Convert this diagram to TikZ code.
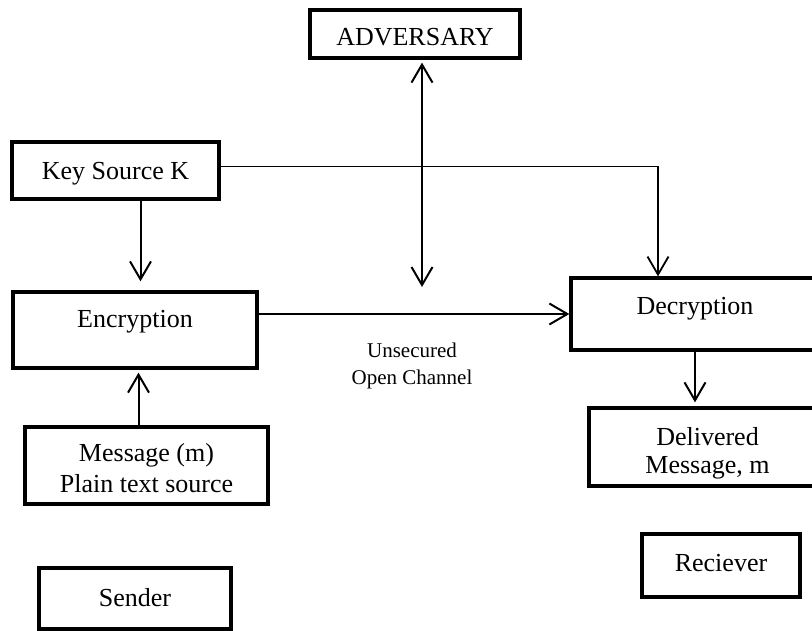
\documentclass[tikz,border=0pt]{standalone}
\usepackage{fontspec}
\setmainfont{Liberation Serif}
\usetikzlibrary{arrows.meta}

\begin{document}
\begin{tikzpicture}[x=1pt,y=-1pt,
        >={Straight Barb[length=18pt,width=21pt]},
        box/.style={draw,line width=3.3pt,inner sep=0pt,align=center,
            font=\fontsize{26}{31}\selectfont},
        mid/.style={text height=18pt,text depth=#1},
        arr/.style={line width=2pt,->}
        ]
        \useasboundingbox (0,0) rectangle (812,631);
        \node[box,minimum width=210pt,minimum height=48pt,text height=24pt,text depth=0pt] (adv) at (415,34) {ADVERSARY};
        \node[box,mid=0pt,minimum width=207pt,minimum height=57pt] (key) at (115.5,170.5) {Key Source K};
        \node[box,mid=24pt,minimum width=244pt,minimum height=76pt] (enc) at (135,330) {Encryption};
        \node[box,mid=16pt,minimum width=248pt,minimum height=72pt] (dec) at (695,314) {Decryption};
        \node[box,minimum width=243pt,minimum height=77pt] (msg) at (146.5,465.5) {\rule{0pt}{24pt}Message (m)\\Plain text source};
        \node[box,minimum width=237pt,minimum height=78pt] (del) at (707.5,447) {\rule{0pt}{30pt}Delivered\\[-3pt]Message, m};
        \node[box,mid=7pt,minimum width=158pt,minimum height=63pt] (rec) at (721,565.5) {Reciever};
        \node[box,mid=3pt,minimum width=192pt,minimum height=61pt] (snd) at (135,598.5) {Sender};
        \node[font=\fontsize{21}{27}\selectfont,align=center] (chan) at (412,365.6) {Unsecured\\Open Channel};
        \coordinate (tap) at (422,287);

        \draw[arr,shorten >=9pt] ([xshift=25pt]key.south) -- ([xshift=25pt]key.south |- enc.north);
        \draw[arr,shorten >=3pt] ([xshift=-8pt]msg.north) -- ([xshift=-8pt]msg.north |- enc.south);
        \draw[arr] (enc.east |- dec.west) -- (dec.west);
        \draw[arr,line width=1.8pt] ([yshift=4pt]key.east) -| ([xshift=-37pt]dec.north);
        \draw[arr,<->,shorten <=3pt] (tap |- adv.south) -- (tap);
        \draw[arr,shorten >=4pt] (dec.south) -- (dec.south |- del.north);
\end{tikzpicture}
\end{document}
